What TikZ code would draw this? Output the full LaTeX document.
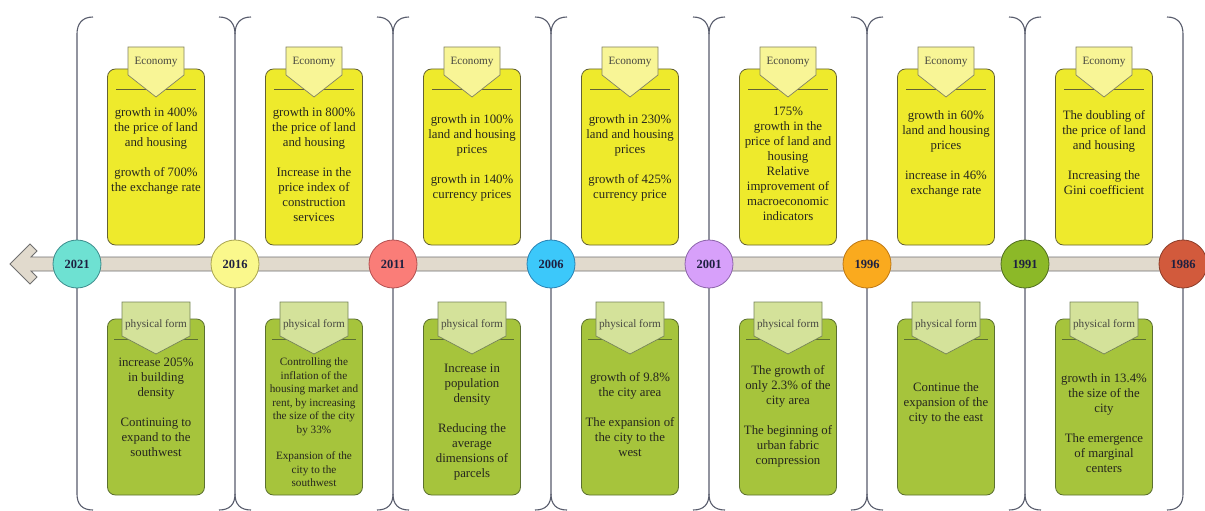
\documentclass[tikz,border=0pt]{standalone}
\usepackage{fontspec}
\setmainfont{Liberation Serif}
\definecolor{brk}{RGB}{88,92,108}
\definecolor{ecoF}{RGB}{238,234,44}
\definecolor{ecoD}{RGB}{100,98,52}
\definecolor{ecoC}{RGB}{248,245,150}
\definecolor{ecoCD}{RGB}{130,130,100}
\definecolor{phyF}{RGB}{166,196,60}
\definecolor{phyD}{RGB}{92,112,48}
\definecolor{phyC}{RGB}{212,226,154}
\definecolor{phyCD}{RGB}{118,132,88}
\definecolor{barF}{RGB}{225,218,205}
\definecolor{barD}{RGB}{112,112,112}
\definecolor{yeartxt}{RGB}{30,32,64}
\definecolor{bodytxt}{RGB}{38,38,30}
\definecolor{cA}{RGB}{110,225,210}\definecolor{dA}{RGB}{60,140,140}
\definecolor{cB}{RGB}{250,248,140}\definecolor{dB}{RGB}{170,165,80}
\definecolor{cC}{RGB}{250,125,120}\definecolor{dC}{RGB}{180,80,80}
\definecolor{cD}{RGB}{60,200,250}\definecolor{dD}{RGB}{40,130,180}
\definecolor{cE}{RGB}{215,160,250}\definecolor{dE}{RGB}{140,100,170}
\definecolor{cF}{RGB}{250,170,30}\definecolor{dF}{RGB}{190,120,20}
\definecolor{cG}{RGB}{140,185,40}\definecolor{dG}{RGB}{80,110,30}
\definecolor{cH}{RGB}{210,90,60}\definecolor{dH}{RGB}{140,60,40}
\tikzset{
  bracket/.style={draw=brk, line width=1.1pt},
  ecobox/.style={draw=ecoD, fill=ecoF, rounded corners=8pt, line width=0.8pt, minimum width=97pt, minimum height=176pt, inner sep=0pt},
  phybox/.style={draw=phyD, fill=phyF, rounded corners=8pt, line width=0.8pt, minimum width=97pt, minimum height=176pt, inner sep=0pt},
  ecosep/.style={draw=ecoD, line width=0.8pt},
  physep/.style={draw=phyD, line width=0.8pt},
  ecocall/.style={draw=ecoCD, fill=ecoC, line width=0.7pt},
  phycall/.style={draw=phyCD, fill=phyC, line width=0.7pt},
  calltext/.style={font=\fontsize{11.2}{13}\selectfont, text=bodytxt!85, inner sep=0pt},
  bodytext/.style={font=\fontsize{12.8}{15}\selectfont, text=bodytxt, align=center, inner sep=0pt, anchor=north},
  smalltext/.style={font=\fontsize{11.2}{13.5}\selectfont},
  yearc/.style={circle, minimum size=48pt, inner sep=0pt, line width=0.8pt, font=\bfseries\fontsize{12.5}{14}\selectfont, text=yeartxt},
  bar/.style={draw=barD, fill=barF, line width=0.8pt}
}
% name, cx, econ first-line y, econ text, phys first-line y, phys extra style, phys text
\newcommand\tlpanel[7]{%
  \node[ecobox] (#1e) at (#2,157) {};
  \draw[ecosep] ({#2-40},89) -- ({#2+40},89);
  \draw[ecocall] ({#2-28},47) -- ({#2+28},47) -- ({#2+28},75) -- (#2,97) -- ({#2-28},75) -- cycle;
  \node[calltext] (#1el) at (#2,62) {Economy};
  \node[bodytext] (#1et) at (#2,{#3-5}) {#4};
  \node[phybox] (#1p) at (#2,407) {};
  \draw[physep] ({#2-42},339) -- ({#2+42},339);
  \draw[phycall] ({#2-34},302) -- ({#2+34},302) -- ({#2+34},336) -- (#2,354) -- ({#2-34},336) -- cycle;
  \node[calltext] (#1pl) at (#2,325) {physical form};
  \node[bodytext,#6] (#1pt) at (#2,{#5-5}) {#7};
}
\begin{document}
\begin{tikzpicture}[x=1pt,y=-1pt]
\fill[white] (0,0) rectangle (1205,511);
\useasboundingbox (0,0) rectangle (1205,511);
% brackets
\foreach \x in {235,393,551,709,867,1025}{
  \draw[bracket] ({\x-16},17) .. controls ({\x-5},17) and (\x,24) .. (\x,34) -- (\x,494) .. controls (\x,504) and ({\x-5},510) .. ({\x-16},510);
  \draw[bracket] ({\x+16},17) .. controls ({\x+5},17) and (\x,24) .. (\x,34);
  \draw[bracket] (\x,494) .. controls (\x,504) and ({\x+5},510) .. ({\x+16},510);
}
\draw[bracket] (93,17) .. controls (82,17) and (77,24) .. (77,34) -- (77,494) .. controls (77,504) and (82,510) .. (93,510);
\draw[bracket] (1167,17) .. controls (1178,17) and (1183,24) .. (1183,34) -- (1183,494) .. controls (1183,504) and (1178,510) .. (1167,510);
% timeline bar with arrow
\draw[bar] (10,264) -- (30,244) -- (37,251) -- (31,257) -- (1183,257) -- (1183,271) -- (31,271) -- (37,277) -- (30,284) -- cycle;
% year circles
\foreach \x/\yr/\cf/\cd in {77/2021/cA/dA, 235/2016/cB/dB, 393/2011/cC/dC, 551/2006/cD/dD, 709/2001/cE/dE, 867/1996/cF/dF, 1025/1991/cG/dG, 1183/1986/cH/dH}{
  \node[yearc, fill=\cf, draw=\cd] (y\yr) at (\x,264) {\yr};
}
% panels
\tlpanel{pa}{156}{112}{growth in 400\%\\the price of land\\and housing\\[15pt]growth of 700\%\\the exchange rate}
  {363}{}{increase 205\%\\in building\\density\\[15pt]Continuing to\\expand to the\\southwest}
\tlpanel{pb}{314}{112}{growth in 800\%\\the price of land\\and housing\\[15pt]Increase in the\\price index of\\construction\\services}
  {363}{smalltext}{Controlling the\\inflation of the\\housing market and\\rent, by increasing\\the size of the city\\by 33\%\\[13pt]Expansion of the\\city to the\\southwest}
\tlpanel{pc}{472}{119}{growth in 100\%\\land and housing\\prices\\[15pt]growth in 140\%\\currency prices}
  {369}{}{Increase in\\population\\density\\[15pt]Reducing the\\average\\dimensions of\\parcels}
\tlpanel{pd}{630}{119}{growth in 230\%\\land and housing\\prices\\[15pt]growth of 425\%\\currency price}
  {377}{}{growth of 9.8\%\\the city area\\[15pt]The expansion of\\the city to the\\west}
\tlpanel{pe}{788}{112}{175\%\\growth in the\\price of land and\\housing\\Relative\\improvement of\\macroeconomic\\indicators}
  {370}{}{The growth of\\only 2.3\% of the\\city area\\[15pt]The beginning of\\urban fabric\\compression}
\tlpanel{pf}{946}{115}{growth in 60\%\\land and housing\\prices\\[15pt]increase in 46\%\\exchange rate}
  {387}{}{Continue the\\expansion of the\\city to the east}
\tlpanel{pg}{1104}{115}{The doubling of\\the price of land\\and housing\\[15pt]Increasing the\\Gini coefficient}
  {378}{}{growth in 13.4\%\\the size of the\\city\\[15pt]The emergence\\of marginal\\centers}
\end{tikzpicture}
\end{document}
